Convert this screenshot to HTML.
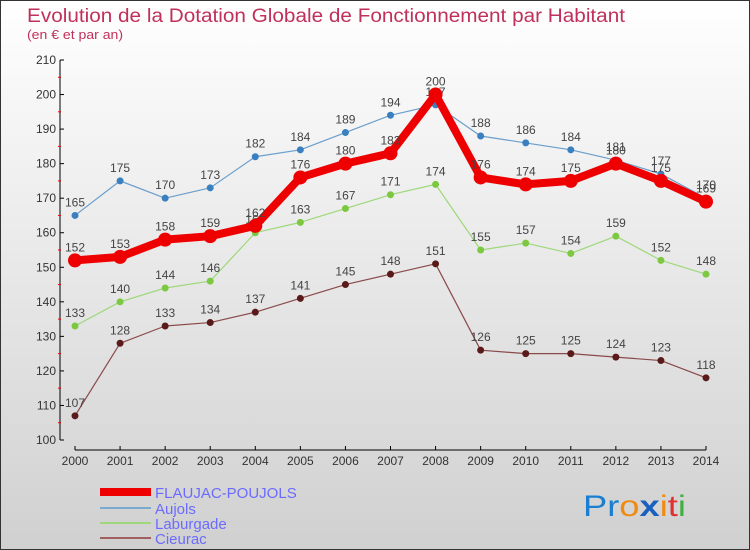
<!DOCTYPE html>
<html><head><meta charset="utf-8"><style>
body{margin:0}
svg{display:block;font-family:"Liberation Sans",sans-serif}
</style></head><body>
<svg id="chart" width="750" height="550" viewBox="0 0 750 550">
<defs><linearGradient id="bg" x1="0" y1="0" x2="0" y2="1"><stop offset="0" stop-color="#ffffff"/><stop offset="1" stop-color="#d0d0d0"/></linearGradient></defs>
<rect x="0.5" y="0.5" width="749" height="549" fill="url(#bg)" stroke="#333"/>
<text x="27" y="22" font-size="19" fill="#c0305a" textLength="598" lengthAdjust="spacingAndGlyphs">Evolution de la Dotation Globale de Fonctionnement par Habitant</text>
<text x="27" y="39" font-size="13" fill="#c0305a" textLength="96" lengthAdjust="spacingAndGlyphs">(en € et par an)</text>
<g id="axes"></g>
<g id="series"></g>
<g id="legend">
<line x1="100" y1="492" x2="151" y2="492" stroke="#e00" stroke-width="8"/>
<text x="155" y="498" font-size="15" fill="#6b6bff">FLAUJAC-POUJOLS</text>
<line x1="100" y1="508" x2="151" y2="508" stroke="#7aaad0" stroke-width="2"/>
<text x="155" y="514" font-size="15" fill="#6b6bff">Aujols</text>
<line x1="100" y1="523" x2="151" y2="523" stroke="#9ed87a" stroke-width="2"/>
<text x="155" y="529" font-size="15" fill="#6b6bff">Laburgade</text>
<line x1="100" y1="538" x2="151" y2="538" stroke="#a06060" stroke-width="2"/>
<text x="155" y="544" font-size="15" fill="#6b6bff">Cieurac</text>
</g>
<g font-size="30" font-family="Liberation Sans, sans-serif">
<text x="583" y="516" textLength="103" lengthAdjust="spacingAndGlyphs"><tspan fill="#1a7fd0">Pr</tspan><tspan fill="#f08a10">o</tspan><tspan fill="#1a60c0" font-weight="bold">x</tspan><tspan fill="#f08a10">i</tspan><tspan fill="#e03030">t</tspan><tspan fill="#40b040">i</tspan></text>
</g>
</svg>
<script>
const years=[2000,2001,2002,2003,2004,2005,2006,2007,2008,2009,2010,2011,2012,2013,2014];
const flaujac=[152,153,158,159,162,176,180,183,200,176,174,175,180,175,169];
const aujols=[165,175,170,173,182,184,189,194,197,188,186,184,181,177,170];
const laburgade=[133,140,144,146,160,163,167,171,174,155,157,154,159,152,148];
const cieurac=[107,128,133,134,137,141,145,148,151,126,125,125,124,123,118];
const yTicks=[100,110,120,130,140,150,160,170,180,190,200,210];
const NS="http://www.w3.org/2000/svg";
function X(i){return 75+i*(706-75)/(years.length-1);}
function Y(v){return 440-(v-100)*(380/110);}
function mk(t,a,p){const e=document.createElementNS(NS,t);for(const k in a)e.setAttribute(k,a[k]);p.appendChild(e);return e;}
const ax=document.getElementById('axes');
let l=mk('line',{x1:60,y1:Y(210),x2:60,y2:440,stroke:'#000'},ax);


l=mk('line',{x1:75,y1:450,x2:706,y2:450,stroke:'#000'},ax);


yTicks.forEach(v=>{
 mk('line',{x1:60,y1:Y(v),x2:64,y2:Y(v),stroke:'#000'},ax);
 if(v<210)mk('line',{x1:58,y1:Y(v+5),x2:61,y2:Y(v+5),stroke:'#e00'},ax);
 const t=mk('text',{x:56,y:Y(v)+4,'text-anchor':'end','font-size':12,fill:'#333'},ax);t.textContent=v;
 
 
});
years.forEach((yr,i)=>{
 mk('line',{x1:X(i),y1:446,x2:X(i),y2:450,stroke:'#000'},ax);
 const t=mk('text',{x:X(i),y:465,'text-anchor':'middle','font-size':12,fill:'#333'},ax);t.textContent=yr;
 
 
});
const sg=document.getElementById('series');
function draw(vals,color,w,r,dot,name){
 const g=mk('g',{},sg);
 
 
 const p=mk('polyline',{points:vals.map((v,i)=>X(i)+','+Y(v)).join(' '),fill:'none',stroke:color,'stroke-width':w,'stroke-linejoin':'round'},g);
 
 
 vals.forEach((v,i)=>{
  const c=mk('circle',{cx:X(i),cy:Y(v),r:r,fill:dot},g);
  
  
  const t=mk('text',{x:X(i),y:Y(v)-9,'text-anchor':'middle','font-size':12,fill:'#444'},g);t.textContent=v;
  
  
 });
}
draw(cieurac,'#8a4a4a',1.2,3.5,'#5a1a1a','cieurac');
draw(laburgade,'#9ed87a',1.2,3.5,'#7cc840','laburgade');
draw(aujols,'#6a9ecc',1.2,3.5,'#3a80c0','aujols');
draw(flaujac,'#ee0000',8,7,'#ee0000','flaujac');
</script>
</body></html>
